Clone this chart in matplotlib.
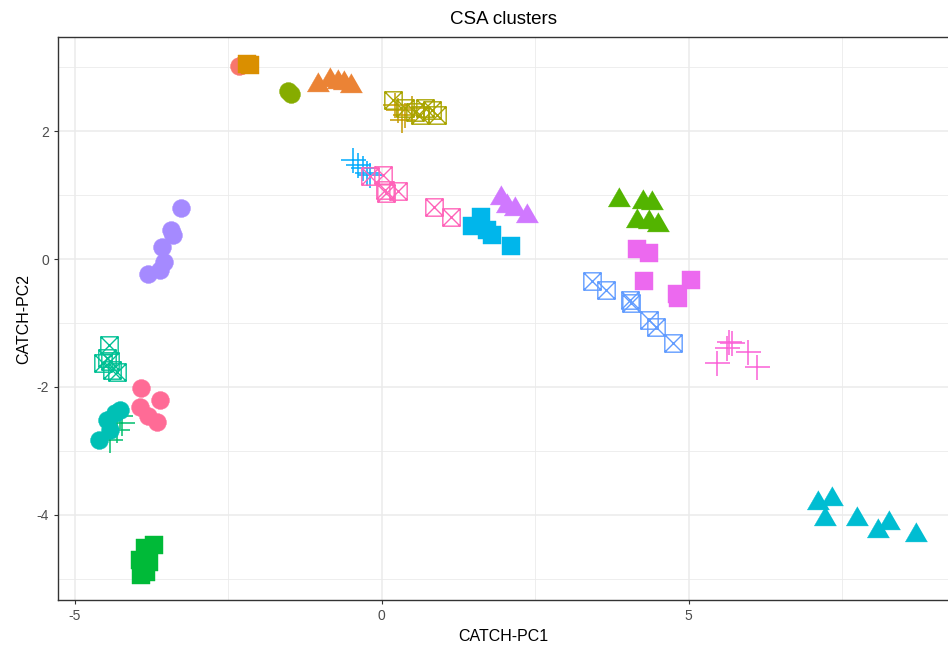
import numpy as np
import matplotlib
matplotlib.use("Agg")
import matplotlib.pyplot as plt
from matplotlib.path import Path

plt.rcParams['font.family'] = ['Liberation Sans', 'DejaVu Sans']
plt.rcParams['axes.unicode_minus'] = False

# cluster points (x = CATCH-PC1, y = CATCH-PC2), one list per cluster
c01_x = [-2.32, -2.28]
c01_y = [3.02, 3.03]
c02_x = [-1.03, -0.84, -0.71, -0.61, -0.50]
c02_y = [2.72, 2.80, 2.77, 2.75, 2.70]
c03_x = [-2.20, -2.15]
c03_y = [3.05, 3.04]
c04_x = [0.27, 0.38, 0.50, 0.33, 0.22]
c04_y = [2.33, 2.25, 2.36, 2.17, 2.41]
c05_x = [0.19, 0.38, 0.55, 0.71, 0.82, 0.90, 0.63]
c05_y = [2.48, 2.36, 2.30, 2.36, 2.33, 2.25, 2.25]
c06_x = [-1.52, -1.47]
c06_y = [2.62, 2.58]
c07_x = [3.87, 4.25, 4.40, 4.16, 4.35, 4.50]
c07_y = [0.92, 0.89, 0.87, 0.59, 0.58, 0.53]
c08_x = [-3.71, -3.85, -3.93, -3.79, -3.92, -3.83]
c08_y = [-4.47, -4.52, -4.70, -4.73, -4.94, -4.89]
c09_x = [-4.26, -4.31, -4.42, -4.23]
c09_y = [-2.46, -2.67, -2.83, -2.56]
c10_x = [-4.44, -4.48, -4.42, -4.31, -4.39, -4.53]
c10_y = [-1.35, -1.55, -1.60, -1.76, -1.73, -1.63]
c11_x = [-4.61, -4.48, -4.34, -4.26, -4.42]
c11_y = [-2.83, -2.52, -2.41, -2.36, -2.67]
c12_x = [7.11, 7.33, 7.22, 7.74, 8.09, 8.27, 8.70]
c12_y = [-3.81, -3.75, -4.07, -4.07, -4.25, -4.13, -4.32]
c13_x = [1.47, 1.62, 1.72, 1.80, 2.11]
c13_y = [0.52, 0.66, 0.45, 0.38, 0.20]
c14_x = [-0.46, -0.38, -0.30, -0.24, -0.19]
c14_y = [1.55, 1.47, 1.42, 1.34, 1.31]
c15_x = [3.42, 3.66, 4.04, 4.06, 4.36, 4.47, 4.75]
c15_y = [-0.34, -0.48, -0.64, -0.68, -0.95, -1.06, -1.32]
c16_x = [-3.27, -3.43, -3.39, -3.58, -3.55, -3.61, -3.80]
c16_y = [0.79, 0.45, 0.38, 0.19, -0.04, -0.17, -0.24]
c17_x = [1.95, 2.04, 2.17, 2.36]
c17_y = [0.96, 0.83, 0.78, 0.67]
c18_x = [4.16, 4.35, 4.28, 5.04, 4.81, 4.83]
c18_y = [0.16, 0.09, -0.35, -0.33, -0.54, -0.61]
c19_x = [5.66, 5.62, 5.70, 5.46, 5.97, 6.12]
c19_y = [-1.29, -1.39, -1.32, -1.62, -1.46, -1.69]
c20_x = [-0.19, 0.03, 0.06, 0.27, 0.07, 0.86, 1.13]
c20_y = [1.29, 1.31, 1.08, 1.07, 1.03, 0.82, 0.65]
c21_x = [-3.92, -3.61, -3.93, -3.80, -3.66]
c21_y = [-2.02, -2.20, -2.31, -2.46, -2.54]

clusters = [
    (c01_x, c01_y), (c02_x, c02_y), (c03_x, c03_y), (c04_x, c04_y),
    (c05_x, c05_y), (c06_x, c06_y), (c07_x, c07_y), (c08_x, c08_y),
    (c09_x, c09_y), (c10_x, c10_y), (c11_x, c11_y), (c12_x, c12_y),
    (c13_x, c13_y), (c14_x, c14_y), (c15_x, c15_y), (c16_x, c16_y),
    (c17_x, c17_y), (c18_x, c18_y), (c19_x, c19_y), (c20_x, c20_y),
    (c21_x, c21_y),
]


def hcl_hex(h, c=100, l=65):
    # polar LUV -> sRGB, like R's hcl()
    xn, yn, zn = 95.047, 100.0, 108.883
    u = c * np.cos(np.radians(h))
    v = c * np.sin(np.radians(h))
    Y = yn * ((l + 16) / 116) ** 3
    d = xn + 15 * yn + 3 * zn
    un, vn = 4 * xn / d, 9 * yn / d
    up = u / (13 * l) + un
    vp = v / (13 * l) + vn
    X = 9.0 * Y * up / (4 * vp)
    Z = -X / 3 - 5 * Y + 3 * Y / vp
    X, Y, Z = X / 100, Y / 100, Z / 100
    r = 3.240479 * X - 1.537150 * Y - 0.498535 * Z
    g = -0.969256 * X + 1.875992 * Y + 0.041556 * Z
    b = 0.055648 * X - 0.204043 * Y + 1.057311 * Z
    out = []
    for ch in (r, g, b):
        ch = 12.92 * ch if ch <= 0.0031308 else 1.055 * ch ** (1 / 2.4) - 0.055
        out.append(min(max(ch, 0), 1))
    return matplotlib.colors.to_hex(out)


n = len(clusters)
hues = np.linspace(15, 375, n + 1)[:-1]
colors = [hcl_hex(h) for h in hues]

tri = [(0, 1), (-0.866, -0.5), (0.866, -0.5)]
box_x = Path([(-1, -1), (1, -1), (1, 1), (-1, 1), (-1, -1),
              (-1, -1), (1, 1), (-1, 1), (1, -1)],
             [Path.MOVETO, Path.LINETO, Path.LINETO, Path.LINETO, Path.CLOSEPOLY,
              Path.MOVETO, Path.LINETO, Path.MOVETO, Path.LINETO])

shape_cycle = ['circle', 'triangle', 'square', 'plus', 'boxx']

fig = plt.figure(figsize=(9.48, 6.53), dpi=100)
ax = fig.add_axes([58 / 948, 53 / 653, 891 / 948, 563 / 653])

for i, (xs, ys) in enumerate(clusters):
    col = colors[i]
    shp = shape_cycle[i % 5]
    if shp == 'circle':
        ax.plot(xs, ys, ls='none', marker='o', ms=12.9, mfc=col, mec=col, mew=0.3)
    elif shp == 'triangle':
        ax.plot(xs, ys, ls='none', marker=tri, ms=18.5, mfc=col, mec=col, mew=0.3)
    elif shp == 'square':
        ax.plot(xs, ys, ls='none', marker='s', ms=13, mfc=col, mec=col, mew=0.3)
    elif shp == 'plus':
        ax.plot(xs, ys, ls='none', marker='+', ms=18, mec=col, mew=1.1)
    else:
        ax.plot(xs, ys, ls='none', marker=box_x, ms=12.5, mfc='none', mec=col, mew=1.0)

ax.set_xlim(-5.27, 9.24)
ax.set_ylim(-5.33, 3.47)
ax.set_xticks([-5, 0, 5])
ax.set_yticks([-4, -2, 0, 2])
ax.set_xticks([-2.5, 2.5, 7.5], minor=True)
ax.set_yticks([-5, -3, -1, 1, 3], minor=True)
ax.grid(True, which='major', color='#EBEBEB', lw=1.1)
ax.grid(True, which='minor', color='#EBEBEB', lw=0.6)
ax.set_axisbelow(True)
ax.tick_params(which='major', length=3, width=0.8, color='#333333',
               labelsize=10, labelcolor='#4D4D4D')
ax.tick_params(which='minor', length=0)
for s in ax.spines.values():
    s.set_color('#333333')
    s.set_linewidth(1.0)

ax.set_title("CSA clusters", fontsize=13.5, pad=9)
ax.set_xlabel("CATCH-PC1", fontsize=11.5, labelpad=4)
ax.set_ylabel("CATCH-PC2", fontsize=11.5, labelpad=4)

plt.savefig("out.png", dpi=100)
plt.close()
